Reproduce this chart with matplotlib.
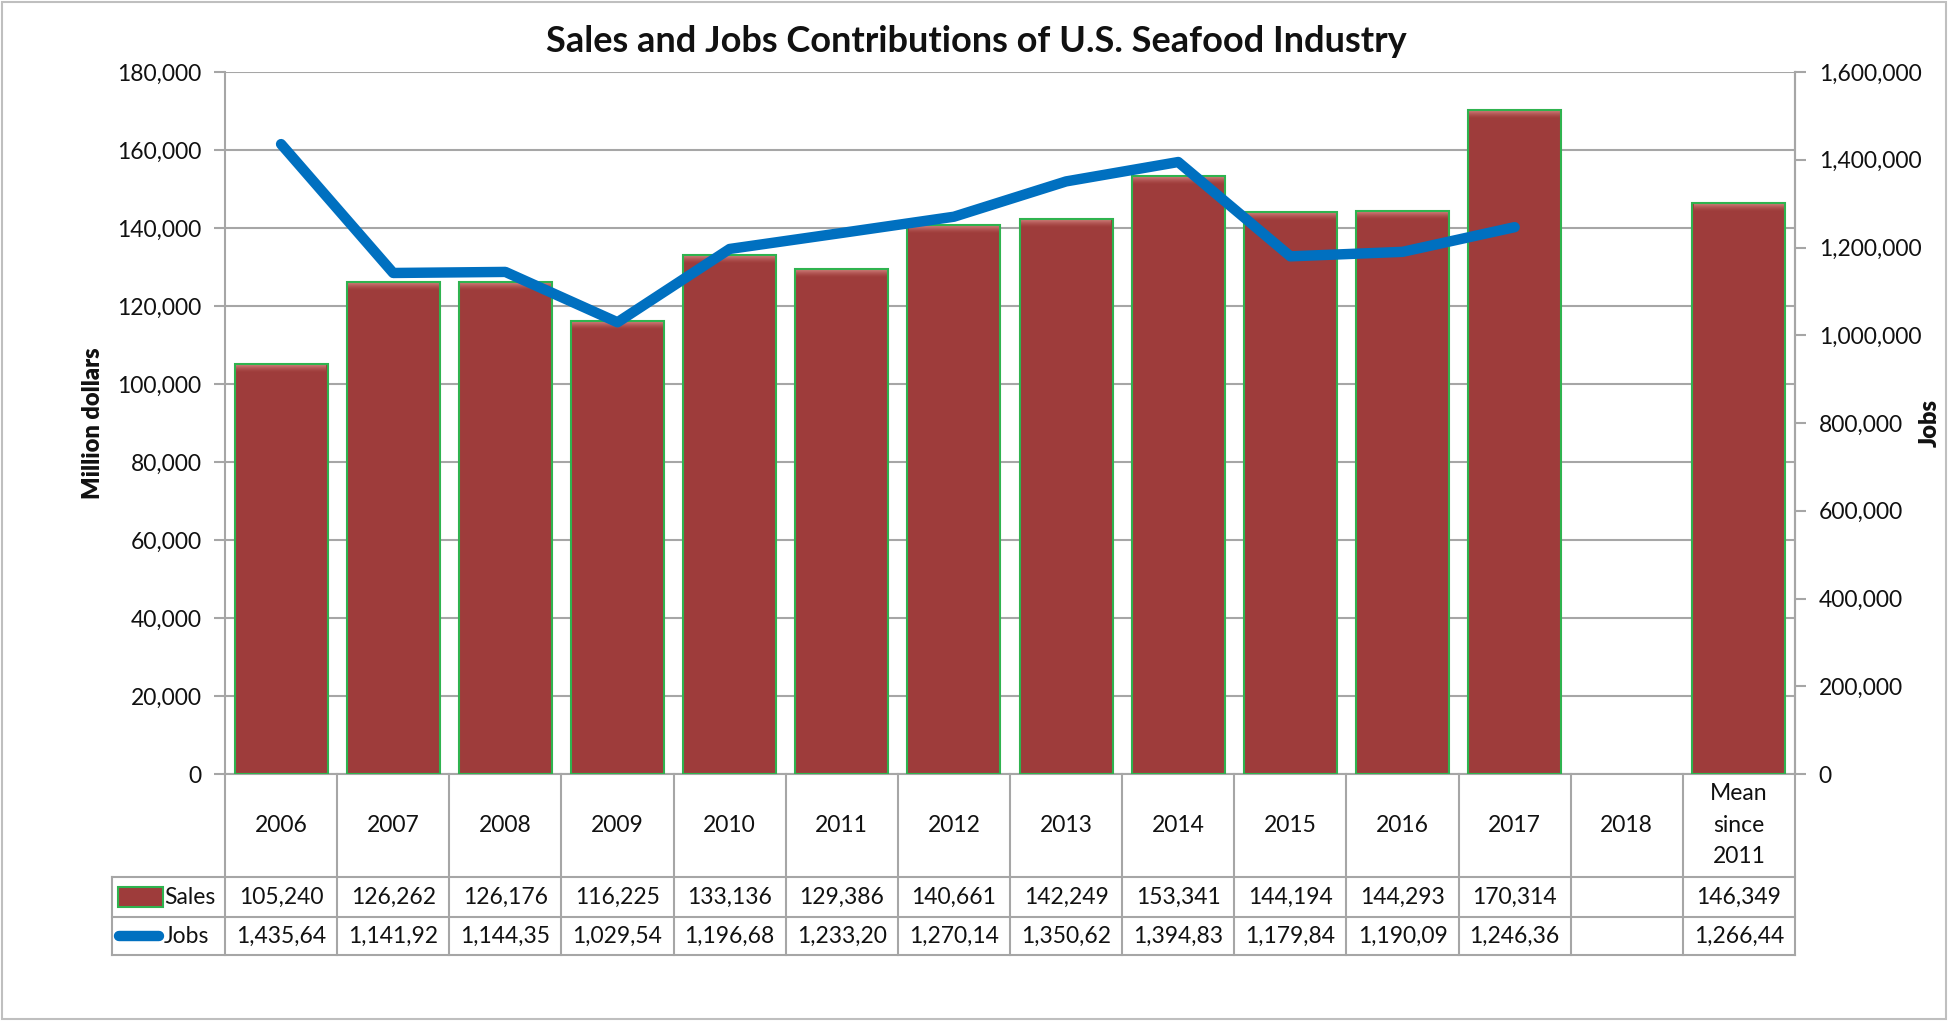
import matplotlib.pyplot as plt
import numpy as np
from matplotlib.lines import Line2D
from matplotlib.patches import Rectangle

plt.rcParams['font.family'] = ['Lato', 'DejaVu Sans']

categories = ['2006', '2007', '2008', '2009', '2010', '2011', '2012', '2013',
              '2014', '2015', '2016', '2017', '2018', 'Mean\nsince\n2011']
sales = [105240, 126262, 126176, 116225, 133136, 129386, 140661, 142249,
         153341, 144194, 144293, 170314, np.nan, 146349]
jobs = [1435640, 1141920, 1144350, 1029540, 1196680, 1233200, 1270140, 1350620,
        1394830, 1179840, 1190090, 1246360, np.nan, 1266440]

left_ticks = np.arange(0, 180001, 20000)
right_ticks = np.arange(0, 1600001, 200000)

W, H = 1950, 1021
BAR = '#9e3c3b'
BAR_TOP = '#d98a86'
EDGE = '#2fb34f'
BLUE = '#0070c0'
GRID = '#a6a6a6'
TXT = '#111111'
FS = 16.5

def fx(px):
    return px / W

def fy(py):
    return 1 - py / H

fig = plt.figure(figsize=(W / 100, H / 100), dpi=100)
fig.patch.set_facecolor('white')
# plot area in pixels
L, R, T, B = 225, 1795, 72, 774
ax = fig.add_axes([fx(L), fy(B), fx(R) - fx(L), fy(T) - fy(B)])
ax2 = ax.twinx()

x = np.arange(len(categories))
ax.set_xlim(-0.5, len(categories) - 0.5)
ax.set_ylim(0, 180000)
ax2.set_ylim(0, 1600000)

# bars, with a soft lighter bevel fading down from the top
ax.bar(x, sales, width=0.83, color=BAR, linewidth=0, zorder=2)
px = 180000 / (B - T)
vals = np.array(sales)
for k in range(8):
    ax.bar(x, np.where(np.isnan(vals), np.nan, px), bottom=vals - (k + 1) * px,
           width=0.81, color=BAR_TOP, linewidth=0, zorder=3,
           alpha=0.85 * (1 - k / 8) ** 1.5)
ax.bar(x, sales, width=0.83, color='none', edgecolor=EDGE, linewidth=1.5, zorder=4)

ax2.plot(x, jobs, color=BLUE, linewidth=7.5, solid_capstyle='round',
         solid_joinstyle='round', zorder=5)

ax.set_yticks(left_ticks)
ax.set_yticklabels([f'{v:,}' for v in left_ticks])
ax2.set_yticks(right_ticks)
ax2.set_yticklabels([f'{v:,}' for v in right_ticks])
ax.set_xticks([])
ax.yaxis.grid(True, color=GRID, linewidth=1.5, zorder=0)
ax.set_axisbelow(True)
for a in (ax, ax2):
    a.tick_params(axis='y', length=8, width=1.5, color=GRID, labelsize=FS,
                  labelcolor=TXT, pad=9)
    for s in a.spines.values():
        s.set_color(GRID)
        s.set_linewidth(1.5)
    a.spines['top'].set_visible(False)
ax2.spines['left'].set_visible(False)
ax2.spines['bottom'].set_visible(False)

fig.text(fx(93), fy(423), 'Million dollars', rotation=90, ha='center', va='center',
         fontsize=17, fontweight='heavy', color=TXT)
fig.text(fx(1930), fy(423), 'Jobs', rotation=90, ha='center', va='center',
         fontsize=17, fontweight='heavy', color=TXT)
fig.text(fx(976), fy(41), 'Sales and Jobs Contributions of U.S. Seafood Industry',
         ha='center', va='center', fontsize=26, fontweight='bold', color=TXT)

# data table under the plot
def line(x0, y0, x1, y1):
    fig.add_artist(Line2D([fx(x0), fx(x1)], [fy(y0), fy(y1)], color=GRID,
                          linewidth=1.5, transform=fig.transFigure))

rows = [774, 877, 917, 955]
leg_left = 112
col_w = (R - L) / len(categories)
for k in range(len(categories) + 1):
    xe = L + k * col_w
    line(xe, rows[0], xe, rows[3])
line(leg_left, rows[1], leg_left, rows[3])
line(leg_left, rows[1], R, rows[1])
line(leg_left, rows[2], R, rows[2])
line(leg_left, rows[3], R, rows[3])

for i, c in enumerate(categories):
    cx = fx(L + (i + 0.5) * col_w)
    fig.text(cx, fy(825), c, ha='center', va='center', fontsize=FS, color=TXT,
             linespacing=1.6)
    if not np.isnan(sales[i]):
        fig.text(cx, fy(897), f'{int(sales[i]):,}', ha='center', va='center',
                 fontsize=FS, color=TXT)
    if not np.isnan(jobs[i]):
        # cell too narrow: Excel cuts off the last digit
        fig.text(cx, fy(936), f'{int(jobs[i]):,}'[:-1], ha='center', va='center',
                 fontsize=FS, color=TXT)

# legend keys in the table
fig.add_artist(Rectangle((fx(118), fy(907)), fx(163) - fx(118), fy(887) - fy(907),
                         facecolor=BAR, edgecolor=EDGE, linewidth=1.5,
                         transform=fig.transFigure))
fig.text(fx(164), fy(897), 'Sales', ha='left', va='center', fontsize=FS, color=TXT)
fig.add_artist(Line2D([fx(119), fx(159)], [fy(936), fy(936)], color=BLUE,
                      linewidth=7.5, solid_capstyle='round',
                      transform=fig.transFigure))
fig.text(fx(164), fy(936), 'Jobs', ha='left', va='center', fontsize=FS, color=TXT)

# chart border
fig.add_artist(Rectangle((0.001, 0.002), 0.997, 0.996, facecolor='none',
                         edgecolor='#bfbfbf', linewidth=1.5,
                         transform=fig.transFigure))

fig.savefig('out.png', dpi=100, facecolor='white')
